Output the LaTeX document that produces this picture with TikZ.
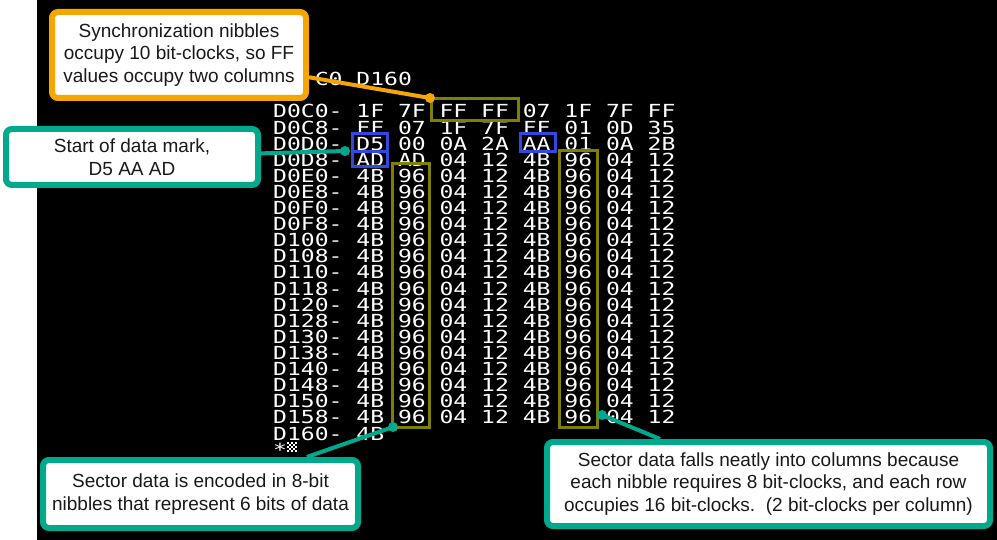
\documentclass[tikz,border=0pt]{standalone}
\usepackage{fontspec}
\newfontfamily\applefont[FakeStretch=1.28]{DejaVu Sans Mono}
\newfontfamily\callfont{Liberation Sans}
\definecolor{olivebox}{RGB}{128,128,0}
\definecolor{bluebox}{RGB}{50,72,224}
\definecolor{calloutorange}{RGB}{245,166,0}
\definecolor{calloutteal}{RGB}{0,168,140}
\definecolor{calltext}{RGB}{25,25,25}
\begin{document}
\begin{tikzpicture}[x=1pt,y=-1pt,
  screen/.style={font=\applefont\fontsize{18}{18}\selectfont, text=white, anchor=base west, inner sep=0pt},
  hlbox/.style={line width=3pt},
  callout/.style={rectangle, rounded corners=6pt, line width=6pt, fill=white, text=calltext,
    align=center, font=\callfont\fontsize{19}{22.5}\selectfont, inner sep=0pt},
  conn/.style={line width=4pt},
]
\useasboundingbox (0,0) rectangle (997,540);
\fill[white] (0,0) rectangle (997,540);
\fill[black] (37,0) rectangle (997,540);

% command line (its start is hidden by the callout)
\node[screen] (cmda) at (314.6,{118-2*16.1}) {C0};
\node[screen] (cmdb) at (356.2,{118-2*16.1}) {D160};

% memory dump rows
\foreach \r/\a/\bytes in {
  0/D0C0/{1F,7F,FF,FF,07,1F,7F,FF},
  1/D0C8/{FF,07,1F,7F,FF,01,0D,35},
  2/D0D0/{D5,00,0A,2A,AA,01,0A,2B},
  3/D0D8/{AD,AD,04,12,4B,96,04,12},
  4/D0E0/{4B,96,04,12,4B,96,04,12},
  5/D0E8/{4B,96,04,12,4B,96,04,12},
  6/D0F0/{4B,96,04,12,4B,96,04,12},
  7/D0F8/{4B,96,04,12,4B,96,04,12},
  8/D100/{4B,96,04,12,4B,96,04,12},
  9/D108/{4B,96,04,12,4B,96,04,12},
  10/D110/{4B,96,04,12,4B,96,04,12},
  11/D118/{4B,96,04,12,4B,96,04,12},
  12/D120/{4B,96,04,12,4B,96,04,12},
  13/D128/{4B,96,04,12,4B,96,04,12},
  14/D130/{4B,96,04,12,4B,96,04,12},
  15/D138/{4B,96,04,12,4B,96,04,12},
  16/D140/{4B,96,04,12,4B,96,04,12},
  17/D148/{4B,96,04,12,4B,96,04,12},
  18/D150/{4B,96,04,12,4B,96,04,12},
  19/D158/{4B,96,04,12,4B,96,04,12},
  20/D160/{4B}} {
  \node[screen] (a\r) at (273,{118+\r*16.1}) {\a-};
  \foreach \b [count=\k from 0] in \bytes {
    \node[screen] (b\r-\k) at ({356.2+41.61*\k},{118+\r*16.1}) {\b};
  }
}
% prompt and cursor
\node[screen] (prompt) at (273,{118+21*16.1}) {*};
\foreach \i in {0,...,4} {
  \foreach \j in {0,...,4} {
    \pgfmathtruncatemacro{\chk}{mod(\i+\j,2)}
    \ifnum\chk=0
      \fill[white] ({287+2*\i},{442+2*\j}) rectangle ++(2,2);
    \fi
  }
}

% highlight boxes
\draw[hlbox, olivebox] (431,99) rectangle (518,121);
\draw[hlbox, bluebox] (352,134) rectangle (387,151.5);
\draw[hlbox, bluebox] (352,151.5) rectangle (387,167);
\draw[hlbox, bluebox] (520,134) rectangle (555,151.5);
\draw[hlbox, olivebox] (392,164) rectangle (429,427);
\draw[hlbox, olivebox] (559,151) rectangle (597,427);

% callouts
\coordinate (syncdot) at (430,98);
\coordinate (markdot) at (345,151);
\coordinate (nibdot) at (393,427);
\coordinate (coldot) at (602,415);

\node[callout, draw=calloutorange, minimum width=254pt, minimum height=86pt] (sync) at (179,55)
  {Synchronization nibbles\\occupy 10 bit-clocks, so FF\\values occupy two columns};
\draw[conn, calloutorange] (sync) -- (syncdot);
\fill[calloutorange] (syncdot) circle (5pt);

\node[callout, draw=calloutteal, minimum width=252pt, minimum height=56pt] (mark) at (132,157)
  {Start of data mark,\\D5 AA AD};
\draw[conn, calloutteal] (mark) -- (markdot);
\fill[calloutteal] (markdot) circle (5pt);

\node[callout, draw=calloutteal, minimum width=315pt, minimum height=68pt] (nib) at (200.5,494)
  {Sector data is encoded in 8-bit\\nibbles that represent 6 bits of data};
\draw[conn, calloutteal] (nib) -- (nibdot);
\fill[calloutteal] (nibdot) circle (5pt);

\node[callout, draw=calloutteal, minimum width=443pt, minimum height=84pt] (cols) at (768.5,484)
  {Sector data falls neatly into columns because\\each nibble requires 8 bit-clocks, and each row\\occupies 16 bit-clocks.\ \ (2 bit-clocks per column)};
\draw[conn, calloutteal] (cols) -- (coldot);
\fill[calloutteal] (coldot) circle (5pt);
\end{tikzpicture}
\end{document}
